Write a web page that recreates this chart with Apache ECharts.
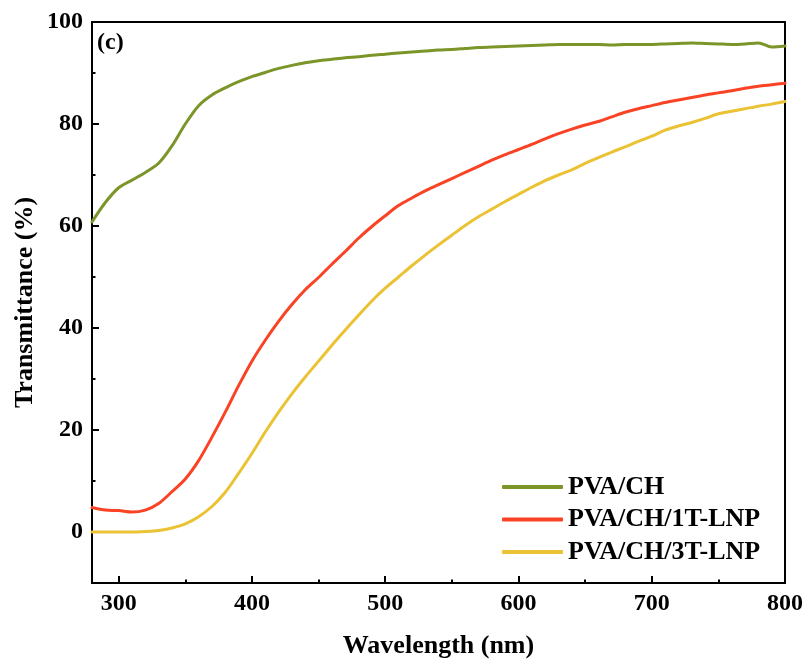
<!DOCTYPE html>
<html>
<head>
<meta charset="utf-8">
<script src="https://cdn.jsdelivr.net/npm/echarts@6/dist/echarts.min.js"></script>
<style>
  html, body { margin: 0; padding: 0; background: #fff; }
  #chart { width: 808px; height: 664px; }
</style>
</head>
<body>
<div id="chart"></div>
<script>
// Wavelength grid (nm) shared by all three spectra
const wavelengths = [280, 290, 300, 310, 320, 330, 340, 350, 360, 370, 380, 390, 400, 410, 420, 430, 440, 450, 460, 470, 480, 490, 500, 510, 520, 530, 540, 550, 560, 570, 580, 590, 600, 610, 620, 630, 640, 650, 660, 670, 680, 690, 700, 710, 720, 730, 740, 750, 760, 770, 780, 790, 800];

// Transmittance (%) of each film
const pvaCh = [60.8, 64.6, 67.5, 69.0, 70.5, 72.3, 75.7, 80.0, 83.6, 85.7, 87.1, 88.3, 89.3, 90.1, 90.9, 91.5, 92.0, 92.4, 92.7, 93.0, 93.2, 93.5, 93.7, 93.9, 94.1, 94.3, 94.5, 94.6, 94.8, 95.0, 95.1, 95.2, 95.3, 95.4, 95.5, 95.6, 95.6, 95.6, 95.6, 95.5, 95.6, 95.6, 95.6, 95.7, 95.8, 95.9, 95.8, 95.7, 95.6, 95.7, 95.9, 95.1, 95.3];
const pvaCh1T = [4.8, 4.3, 4.2, 3.9, 4.3, 5.6, 7.9, 10.4, 14.0, 18.6, 23.5, 28.7, 33.5, 37.6, 41.3, 44.6, 47.5, 49.9, 52.5, 55.0, 57.6, 59.9, 62.0, 64.0, 65.5, 66.9, 68.1, 69.3, 70.5, 71.7, 72.9, 74.0, 75.0, 76.0, 77.1, 78.1, 79.0, 79.8, 80.5, 81.4, 82.3, 83.0, 83.6, 84.2, 84.7, 85.2, 85.7, 86.1, 86.5, 87.0, 87.4, 87.7, 88.0];
const pvaCh3T = [0.0, 0.0, 0.0, 0.0, 0.1, 0.3, 0.8, 1.6, 3.0, 5.0, 7.8, 11.5, 15.4, 19.6, 23.5, 27.1, 30.4, 33.5, 36.6, 39.6, 42.5, 45.3, 47.8, 50.0, 52.2, 54.3, 56.3, 58.2, 60.1, 61.8, 63.3, 64.8, 66.2, 67.6, 68.9, 70.0, 71.0, 72.3, 73.4, 74.5, 75.5, 76.6, 77.6, 78.8, 79.6, 80.3, 81.1, 82.0, 82.5, 83.0, 83.5, 83.9, 84.4];

const seriesNames = ['PVA/CH', 'PVA/CH/1T-LNP', 'PVA/CH/3T-LNP'];
const seriesColors = ['#7b9529', '#fa4224', '#ebc234'];

// Tick positions
const xMajorTicks = [300, 400, 500, 600, 700, 800];
const xMinorTicks = [350, 450, 550, 650, 750];
const yMajorTicks = [0, 20, 40, 60, 80, 100];
const yMinorTicks = [10, 30, 50, 70, 90];

const FONT = '"Liberation Serif", "Times New Roman", serif';

const pair = (vals) => wavelengths.map((w, i) => [w, vals[i]]);

const chart = echarts.init(document.getElementById('chart'), null, { renderer: 'canvas' });

const labelStyle = { fontFamily: FONT, fontWeight: 'bold', fontSize: 24, color: '#000' };
const nameStyle = { fontFamily: FONT, fontWeight: 'bold', fontSize: 26, color: '#000' };

chart.setOption({
  backgroundColor: '#fff',
  animation: false,
  grid: {
    left: 92, right: 23, top: 22, bottom: 81,
    show: true, borderColor: '#000', borderWidth: 2, backgroundColor: 'transparent'
  },
  xAxis: [
    {
      type: 'value', min: 280, max: 800,
      name: 'Wavelength (nm)', nameLocation: 'middle', nameGap: 50,
      nameTextStyle: nameStyle,
      axisLine: { show: true, onZero: false, lineStyle: { color: '#000', width: 2 } },
      axisTick: { show: true, inside: true, length: 7, lineStyle: { color: '#000', width: 2 }, customValues: xMajorTicks },
      axisLabel: Object.assign({ margin: 9, customValues: xMajorTicks }, labelStyle),
      splitLine: { show: false }
    },
    {
      type: 'value', min: 280, max: 800, position: 'bottom',
      axisLine: { show: false, onZero: false },
      axisTick: { show: true, inside: true, length: 3.5, lineStyle: { color: '#000', width: 2 }, customValues: xMinorTicks },
      axisLabel: { show: false },
      splitLine: { show: false }
    }
  ],
  yAxis: [
    {
      type: 'value', min: -10, max: 100,
      name: 'Transmittance (%)', nameLocation: 'middle', nameGap: 54, nameMoveOverlap: false,
      nameTextStyle: nameStyle,
      axisLine: { show: true, onZero: false, lineStyle: { color: '#000', width: 2 } },
      axisTick: { show: true, inside: true, length: 7, lineStyle: { color: '#000', width: 2 }, customValues: yMajorTicks },
      axisLabel: Object.assign({ margin: 9, customValues: yMajorTicks }, labelStyle),
      splitLine: { show: false }
    },
    {
      type: 'value', min: -10, max: 100, position: 'left',
      axisLine: { show: false, onZero: false },
      axisTick: { show: true, inside: true, length: 3.5, lineStyle: { color: '#000', width: 2 }, customValues: yMinorTicks },
      axisLabel: { show: false },
      splitLine: { show: false }
    }
  ],
  legend: {
    orient: 'vertical', left: 502, top: 474, padding: 0,
    itemWidth: 61, itemHeight: 4, itemGap: 6.5, icon: 'roundRect',
    textStyle: { fontFamily: FONT, fontWeight: 'bold', fontSize: 26, color: '#000', lineHeight: 26 },
    data: seriesNames
  },
  graphic: [{
    type: 'text', left: 97, top: 31,
    style: { text: '(c)', fontFamily: FONT, fontWeight: 'bold', fontSize: 24, fill: '#000' }
  }],
  series: [pvaCh, pvaCh1T, pvaCh3T].map((vals, i) => ({
    name: seriesNames[i],
    type: 'line',
    xAxisIndex: 0, yAxisIndex: 0,
    data: pair(vals),
    showSymbol: false, symbol: 'none',
    smooth: 0.3,
    lineStyle: { color: seriesColors[i], width: 3, cap: 'round', join: 'round' },
    itemStyle: { color: seriesColors[i] },
    z: 3 - i
  }))
});
</script>
</body>
</html>
